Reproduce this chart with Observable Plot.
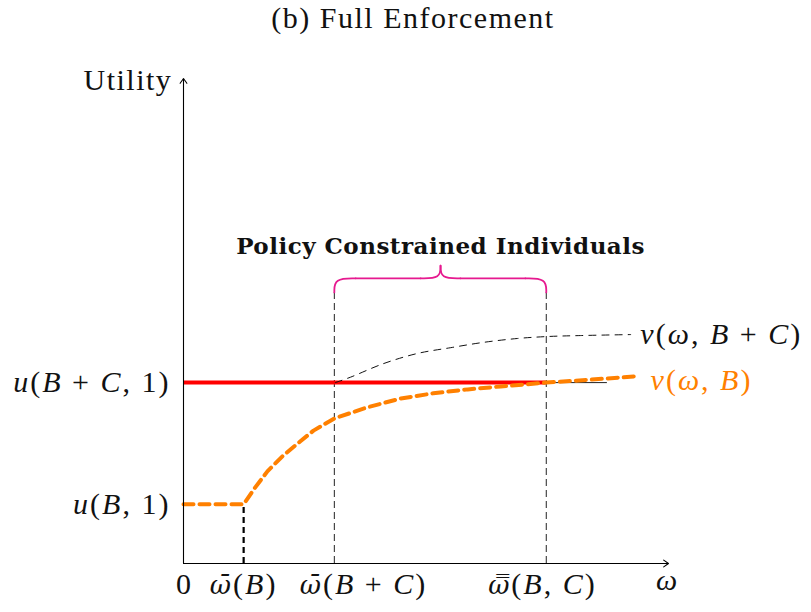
<!DOCTYPE html>
<html>
<head>
<meta charset="utf-8">
<script src="https://cdn.jsdelivr.net/npm/d3@7"></script>
<script src="https://cdn.jsdelivr.net/npm/@observablehq/plot@0.6"></script>
<style>
  html, body { margin: 0; padding: 0; background: #fff; }
  #title { height: 40px; line-height: 36px; text-align: center; padding-left: 15px;
           font-family: "Liberation Serif", serif; font-size: 30px; letter-spacing: 1.5px; color: #111; }
  #chart svg { display: block; }
</style>
</head>
<body>
<div id="title">(b) Full Enforcement</div>
<div id="chart"></div>
<script>
// ---- key thresholds (data units) ----
const wB = 1.24, wBC = 3.11, wBar2 = 7.48;
const uB = 1.22, uBC = 3.73;

// ---- v(ω, B): orange dashed ----
const vBx = [0, 1.24, 1.48, 1.73, 2.06, 2.41, 2.68, 3.11, 3.79, 4.47, 5.15, 5.86, 6.54, 7.48, 8.39, 9.34];
const vBy = [1.22, 1.22, 1.57, 1.90, 2.23, 2.52, 2.74, 2.99, 3.22, 3.40, 3.51, 3.59, 3.65, 3.73, 3.79, 3.86];

// ---- v(ω, B + C): black dashed ----
const vBCx = [3.13, 3.44, 4.12, 4.82, 5.51, 6.19, 6.89, 7.51, 8.19, 9.22];
const vBCy = [3.73, 3.84, 4.12, 4.33, 4.45, 4.56, 4.64, 4.68, 4.70, 4.72];

// ---- brace ----
const braceSeg = ["a","a","a","b","b","c","c","c","d","d","d","e","e","f","f","f"];
const braceX = [3.11,3.11,3.55, 3.55,4.89, 4.89,5.30,5.30, 5.30,5.30,5.71, 5.71,7.05, 7.05,7.48,7.48];
const braceY = [5.59,5.88,5.88, 5.88,5.88, 5.88,5.88,6.14, 6.14,5.88,5.88, 5.88,5.88, 5.88,5.88,5.59];
const braceTop = 5.59;

// ---- labels ----
const xTickLabels = ["0", "ω\u0304(B)", "ω\u0304(B + C)", "ω\u033F(B, C)"];
const xTickPos = [0, 1.24, 3.71, 7.40];
const yTickLabels = ["u(B + C, 1)", "u(B, 1)"];
const yTickPos = [3.73, 1.22];
const curveLabels = ["v(ω, B + C)", "v(ω, B)"];
const curveLabelX = [9.42, 9.63];
const curveLabelY = [4.72, 3.77];
const annotation = "Policy Constrained Individuals";

const orange = "#ff8000", red = "#ff0000", pink = "#e6198f";
const mathFont = "Liberation Serif";
const mathSize = 30, mathLS = 2;

const vB = vBx.map((x, i) => ({x, y: vBy[i]}));
const vBC = vBCx.map((x, i) => ({x, y: vBCy[i]}));
const brace = braceX.map((x, i) => ({x, y: braceY[i], s: braceSeg[i]}));

const chart = Plot.plot({
  width: 811, height: 572, margin: 0,
  x: {domain: [0, 10], range: [183, 668], axis: null},
  y: {domain: [0, 10], range: [523, 38], axis: null},
  marks: [
    Plot.ruleX([wBC, wBar2], {y1: 0, y2: braceTop, stroke: "#222", strokeWidth: 1, strokeDasharray: "7,4"}),
    Plot.ruleX([wB], {y1: 0, y2: uB, stroke: "#000", strokeWidth: 2.2, strokeDasharray: "6,4"}),
    Plot.ruleY([uBC], {x1: 0, x2: 8.74, stroke: "#222", strokeWidth: 1}),
    Plot.ruleY([uBC], {x1: 0, x2: wBar2, stroke: red, strokeWidth: 4}),
    Plot.line(vBC, {x: "x", y: "y", stroke: "#111", strokeWidth: 1, strokeDasharray: "7,6", curve: "catmull-rom"}),
    Plot.line(vB, {x: "x", y: "y", stroke: orange, strokeWidth: 4, strokeDasharray: "10,6", curve: "linear"}),
    Plot.line(brace, {x: "x", y: "y", z: "s", stroke: pink, strokeWidth: 1.8, curve: "basis"}),
    Plot.arrow([{x1: 0, y1: 0, x2: 10, y2: 0}, {x1: 0, y1: 0, x2: 0, y2: 10}],
      {x1: "x1", y1: "y1", x2: "x2", y2: "y2", stroke: "#000", strokeWidth: 1.1, headLength: 8, headAngle: 70}),
    Plot.text(xTickLabels, {x: (d, i) => xTickPos[i], y: -0.43, text: d => d, fontFamily: mathFont, fontSize: mathSize, fill: "#111"}),
    Plot.text(["ω"], {x: 9.98, y: -0.35, text: d => d, fontFamily: mathFont, fontSize: mathSize, fill: "#111"}),
    Plot.text(yTickLabels, {x: -0.27, y: (d, i) => yTickPos[i], text: d => d, textAnchor: "end", fontFamily: mathFont, fontSize: mathSize, fill: "#111"}),
    Plot.text(["Utility"], {x: -0.23, y: 9.96, text: d => d, textAnchor: "end", fontFamily: mathFont, fontSize: 30, fill: "#111"}),
    Plot.text(curveLabels, {x: (d, i) => curveLabelX[i], y: (d, i) => curveLabelY[i], text: d => d, textAnchor: "start",
      fontFamily: mathFont, fontSize: mathSize, fill: (d, i) => i === 0 ? "#111" : orange}),
    Plot.text([annotation], {x: 5.30, y: 6.54, text: d => d, fontFamily: "DejaVu Serif", fontWeight: "bold", fontSize: 23, fill: "#111"})
  ]
});
document.getElementById("chart").appendChild(chart);

// ---- LaTeX-like math typesetting: italic letters; barred ω set in a font with mark positioning ----
const NS = "http://www.w3.org/2000/svg";
const mathSet = new Set([...xTickLabels.slice(1), "ω", ...yTickLabels, ...curveLabels]);
chart.querySelectorAll("text").forEach(t => {
  const s = t.textContent;
  if (s === "Utility") { t.style.letterSpacing = "1.5px"; return; }
  if (s === annotation) { t.style.letterSpacing = "0.5px"; return; }
  if (!mathSet.has(s)) return;
  t.style.letterSpacing = mathLS + "px";
  const parts = [];
  for (let i = 0; i < s.length; i++) {
    const c = s[i], n = s[i + 1];
    if (c === "ω" && (n === "\u0304" || n === "\u033F")) { parts.push({text: c + n, italic: true, barred: true}); i++; continue; }
    const it = /[A-Za-zω]/.test(c);
    const last = parts[parts.length - 1];
    if (last && !last.barred && last.italic === it) last.text += c; else parts.push({text: c, italic: it});
  }
  while (t.firstChild) t.removeChild(t.firstChild);
  parts.forEach(p => {
    const ts = document.createElementNS(NS, "tspan");
    ts.textContent = p.text;
    ts.setAttribute("font-style", p.italic ? "italic" : "normal");
    if (p.barred) { ts.setAttribute("font-family", "DejaVu Serif"); ts.setAttribute("font-size", 26); }
    t.appendChild(ts);
  });
});
</script>
</body>
</html>
